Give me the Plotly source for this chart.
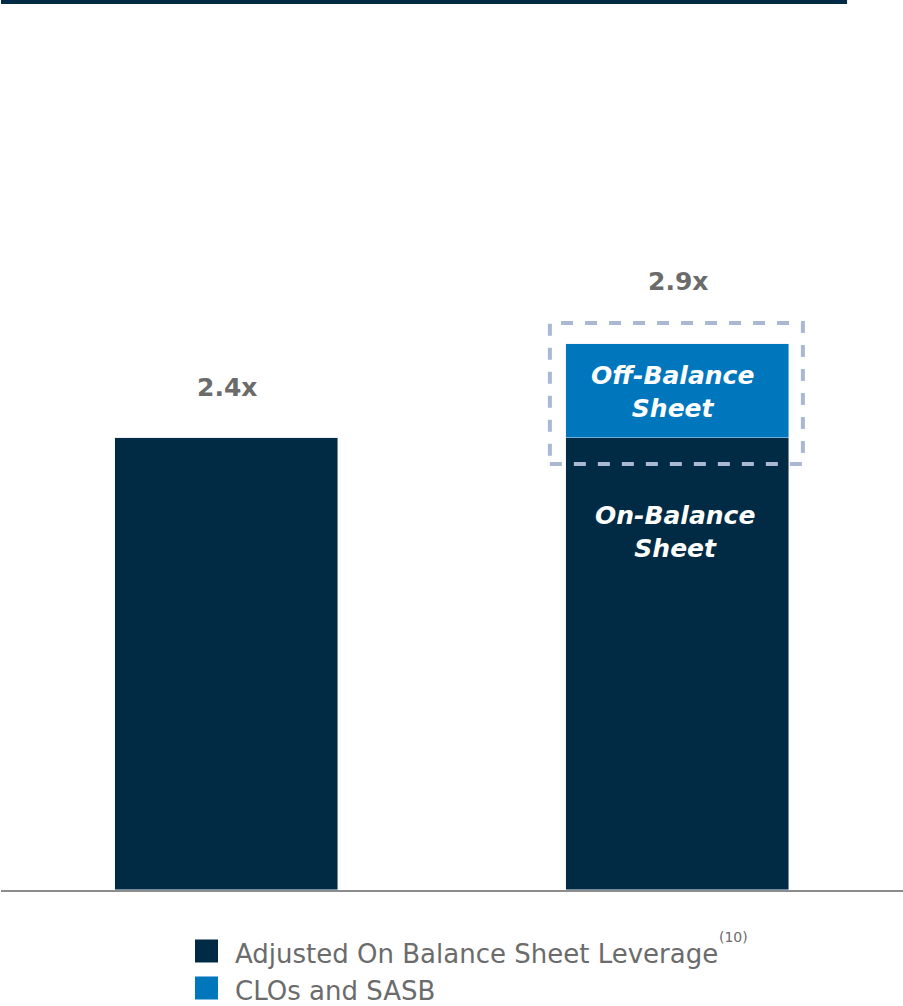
import plotly.graph_objects as go

# Leverage by category
categories = ["Adjusted", "Total"]
on_balance = [2.4, 2.4]
off_balance = [0.0, 0.5]
totals = ["2.4x", "2.9x"]
series_names = ["Adjusted On Balance Sheet Leverage", "CLOs and SASB"]

NAVY = "#012b45"
BLUE = "#0077bd"
GRAY_TXT = "#6b6b6b"
DASH = "#aab8d4"
FONT = "DejaVu Sans"

x = [0, 1]
fig = go.Figure()
fig.add_trace(go.Bar(x=x, y=on_balance, marker_color=NAVY, width=0.495,
                     name=series_names[0], showlegend=False))
fig.add_trace(go.Bar(x=x, y=off_balance, marker_color=BLUE, width=0.495,
                     name=series_names[1], showlegend=False))

tot_vals = [a + b for a, b in zip(on_balance, off_balance)]
shifts = [34, 46]
for xi, v, t, s in zip(x, tot_vals, totals, shifts):
    fig.add_annotation(x=xi, y=v, text=f"<b>{t}</b>", showarrow=False,
                       yanchor="bottom", yshift=s,
                       font=dict(family=FONT, size=25, color=GRAY_TXT))

# In-bar labels
fig.add_annotation(x=1, y=on_balance[1] + off_balance[1] / 2, text="<b><i>Off-Balance<br>Sheet</i></b>",
                   showarrow=False, xshift=-5, yshift=-1,
                   font=dict(family=FONT, size=25, color="white"))
fig.add_annotation(x=1, y=on_balance[1], text="<b><i>On-Balance<br>Sheet</i></b>",
                   showarrow=False, yanchor="top", yshift=-61, xshift=-3,
                   font=dict(family=FONT, size=25, color="white"))

# Dashed outline around the off-balance-sheet component
fig.add_shape(type="rect", xref="x", yref="y", x0=0.717, x1=1.278, y0=2.263, y1=3.013,
              line=dict(color=DASH, width=4, dash="dash"), fillcolor="rgba(0,0,0,0)")

# Header rule
fig.add_shape(type="rect", xref="paper", yref="paper", x0=0, x1=0.938, y0=1.046, y1=1.055,
              line=dict(width=0), fillcolor=NAVY)

# Legend
leg_colors = [NAVY, BLUE]
leg_y = [-0.0720, -0.1157]  # paper coords for item centres
for name, col, ly in zip(series_names, leg_colors, leg_y):
    fig.add_shape(type="rect", xref="paper", yref="paper",
                  x0=194 / 902, x1=217 / 902, y0=ly - 11.5 / 847, y1=ly + 11.5 / 847,
                  line=dict(width=0), fillcolor=col)
    fig.add_annotation(xref="paper", yref="paper", x=232 / 902, y=ly - 3 / 847, xanchor="left",
                       yanchor="middle", text=name, showarrow=False,
                       font=dict(family=FONT, size=26, color=GRAY_TXT))
fig.add_annotation(xref="paper", yref="paper", x=716 / 902, y=-0.0555, xanchor="left",
                   yanchor="middle", text="(10)", showarrow=False,
                   font=dict(family=FONT, size=14, color=GRAY_TXT))

fig.update_layout(
    barmode="stack",
    width=903, height=1006,
    margin=dict(l=1, r=0, t=43, b=116),
    plot_bgcolor="white", paper_bgcolor="white",
    xaxis=dict(range=[-0.5, 1.5], showticklabels=False, showgrid=False, zeroline=False,
               showline=True, linecolor="#8c8c8c", linewidth=2, ticks=""),
    yaxis=dict(range=[0, 4.5], visible=False, showgrid=False),
    bargap=0,
)

fig.write_html("out.html")
